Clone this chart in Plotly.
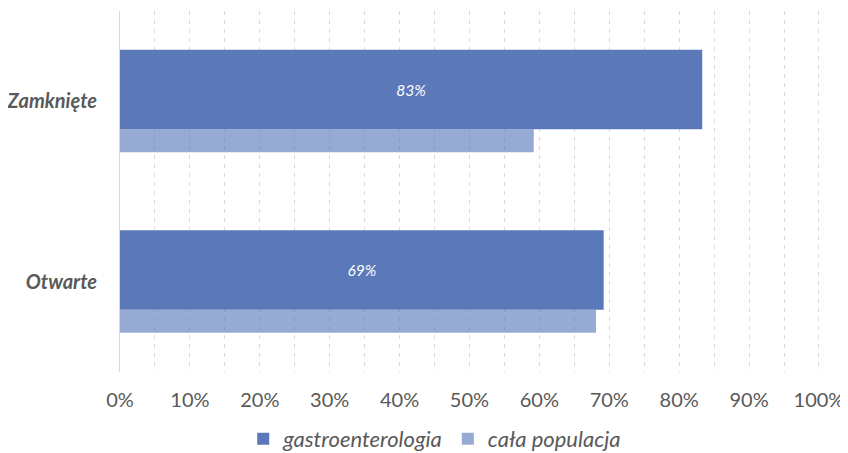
import plotly.graph_objects as go

# data
categories = ["Otwarte", "Zamknięte"]
gastro = [0.692, 0.833]
populacja = [0.681, 0.592]
gastro_labels = ["69%", "83%"]
tick_vals = [0, 0.1, 0.2, 0.3, 0.4, 0.5, 0.6, 0.7, 0.8, 0.9, 1.0]
tick_text = ["0%", "10%", "20%", "30%", "40%", "50%", "60%", "70%", "80%", "90%", "100%"]

FONT = "Lato, 'Noto Sans', sans-serif"
GREY = "#595959"

fig = go.Figure()

# dark bars (gastroenterologia)
fig.add_trace(
    go.Bar(
        y=categories,
        x=gastro,
        orientation="h",
        name="gastroenterologia",
        marker=dict(color="#5B78B9", line=dict(width=0)),
        width=0.44,
        offset=-0.155,
        text=gastro_labels,
        textposition="inside",
        insidetextanchor="middle",
        textfont=dict(family=FONT, size=15.5, color="white", style="italic"),
        hoverinfo="x+y",
    )
)

# light bars (cała populacja)
fig.add_trace(
    go.Bar(
        y=categories,
        x=populacja,
        orientation="h",
        name="cała populacja",
        marker=dict(color="rgba(91,120,185,0.63)", line=dict(width=0)),
        width=0.128,
        offset=-0.283,
        hoverinfo="x+y",
    )
)

# the page body adds an 8px margin, so the figure is shifted to compensate
fig.update_layout(
    width=840,
    height=452,
    margin=dict(l=112, r=28, t=3, b=88),
    paper_bgcolor="white",
    plot_bgcolor="white",
    barmode="overlay",
    font=dict(family=FONT, color=GREY),
    showlegend=True,
    legend=dict(
        orientation="h",
        xref="container",
        x=0.508,
        xanchor="center",
        yref="container",
        y=0.0,
        yanchor="bottom",
        font=dict(family=FONT, size=22, color=GREY, style="italic"),
        itemwidth=30,
        tracegroupgap=0,
    ),
    xaxis=dict(
        # tiny pad so the 100% gridline is still drawn
        range=[0, 1.0015],
        tickvals=tick_vals,
        ticktext=tick_text,
        tickfont=dict(family=FONT, size=20, color=GREY),
        showgrid=True,
        gridcolor="#D9D9D9",
        griddash="4px,5px",
        gridwidth=1,
        minor=dict(
            dtick=0.05,
            tick0=0,
            showgrid=True,
            gridcolor="#D9D9D9",
            griddash="4px,5px",
            gridwidth=1,
        ),
        zeroline=False,
        showline=False,
        ticks="",
        ticklabelstandoff=14,
        automargin=False,
        fixedrange=True,
    ),
    yaxis=dict(
        categoryorder="array",
        categoryarray=categories,
        range=[-0.5, 1.5],
        tickfont=dict(family=FONT, size=20, color=GREY, weight="bold", style="italic"),
        showgrid=False,
        zeroline=False,
        showline=True,
        linecolor="#D9D9D9",
        linewidth=1,
        ticks="",
        ticklabelstandoff=18,
        automargin=False,
        fixedrange=True,
    ),
)

fig.write_html("out.html")
